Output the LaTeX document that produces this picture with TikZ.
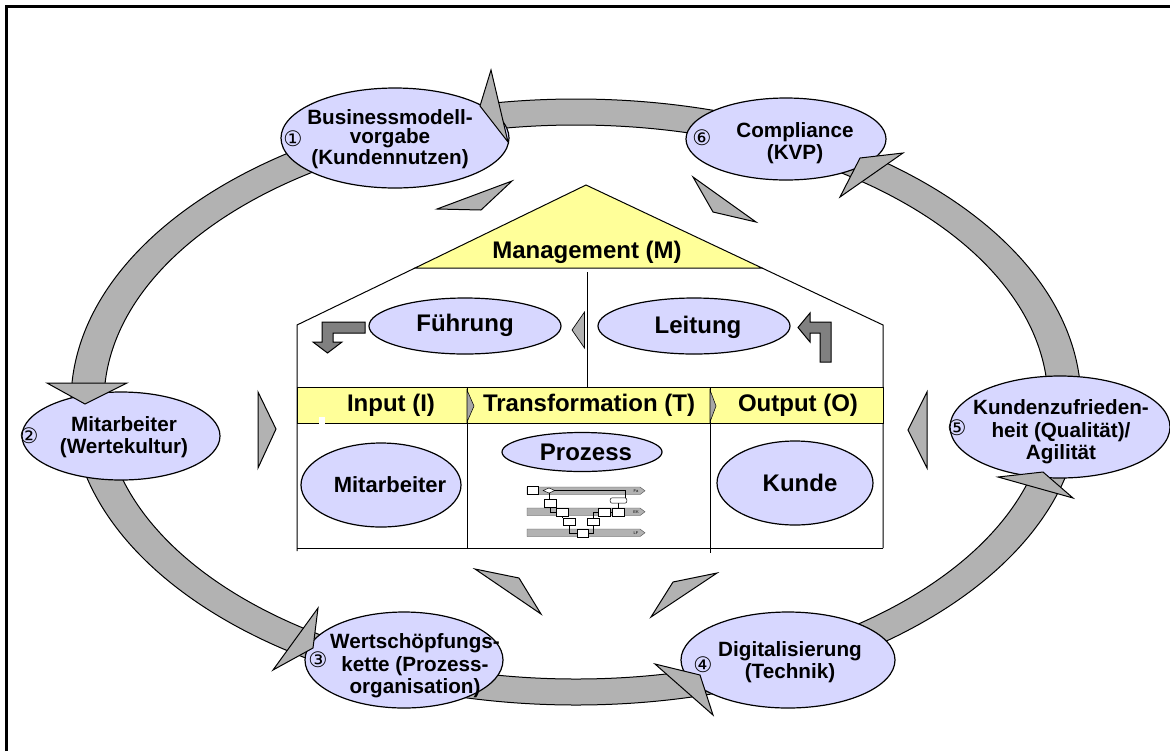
\documentclass[tikz,border=0pt]{standalone}
\usepackage{fontspec}
\setmainfont{Liberation Sans}
\newfontfamily\dejavu{DejaVu Sans}
\usetikzlibrary{shapes.geometric}
\definecolor{ringgray}{RGB}{178,178,178}
\definecolor{arrgray}{RGB}{128,128,128}
\definecolor{lav}{RGB}{215,215,255}
\definecolor{yel}{RGB}{255,255,153}
\begin{document}
\begin{tikzpicture}[x=0.75pt,y=-0.75pt,
  bub/.style={ellipse, draw=black, line width=0.9pt, fill=lav, inner sep=0pt, outer sep=0pt},
  olbl/.style={font=\fontsize{15.5}{17}\selectfont\bfseries, align=center, inner sep=0pt},
  ilbl/.style={font=\fontsize{18}{20}\selectfont\bfseries, inner sep=0pt},
  num/.style={font=\dejavu\fontsize{16}{16}\selectfont, inner sep=0pt},
  tri/.style={fill=ringgray, draw=black, line width=0.75pt, line join=miter},
  bent/.style={fill=arrgray, draw=black, line width=0.75pt},
  house/.style={draw=black, line width=0.75pt},
  lane/.style={fill=ringgray, draw=black!70, line width=0.3pt},
  mbox/.style={fill=white, draw=black, line width=0.35pt},
  mline/.style={draw=black, line width=0.6pt},
  tiny/.style={font=\fontsize{3}{3}\selectfont, inner sep=0pt}]
\useasboundingbox (0,0) rectangle (1170,751);
\fill[white] (0,0) rectangle (1170,751);
% frame
\draw[line width=2.25pt] (6,751) -- (6,6) -- (1170,6);

% ring
\filldraw[fill=ringgray, draw=black, line width=0.75pt, even odd rule]
  (576,402) ellipse [x radius=378.75pt, y radius=227.25pt]
  (576,402) ellipse [x radius=354pt, y radius=207.75pt];

% outer nodes
\node[bub, minimum width=171pt, minimum height=75pt] (n1) at (395,138) {};
\node[bub, minimum width=148.5pt, minimum height=66pt] (n2) at (121,436) {};
\node[bub, minimum width=148.5pt, minimum height=72pt] (n3) at (404,660) {};
\node[bub, minimum width=160.5pt, minimum height=72pt] (n4) at (788,660) {};
\node[bub, minimum width=165pt, minimum height=76.5pt] (n5) at (1060,427) {};
\node[bub, minimum width=150pt, minimum height=61.5pt] (n6) at (786,139) {};

\node[olbl, font=\fontsize{15.5}{14.5}\selectfont\bfseries] (t1) at (390,139) {Businessmodell-\\vorgabe\\(Kundennutzen)};
\node[olbl] (t2) at (124,437) {Mitarbeiter\\(Wertekultur)};
\node[olbl] (t3) at (415,666) {Wertschöpfungs-\\kette (Prozess-\\organisation)};
\node[olbl] (t4) at (790,662) {Digitalisierung\\(Technik)};
\node[olbl] (t5) at (1061,432) {Kundenzufrieden-\\heit (Qualität)/\\Agilität};
\node[olbl] (t6) at (795,143) {Compliance\\(KVP)};

\node[num] (c1) at (293,139) {①};
\node[num] (c2) at (29,436) {②};
\node[num] (c3) at (318,660) {③};
\node[num] (c4) at (703,665) {④};
\node[num] (c5) at (957,428) {⑤};
\node[num] (c6) at (702,138) {⑥};

% arrowheads of the ring
\draw[tri] (491,70) -- (508,142) -- (480,106) -- cycle;
\draw[tri] (47,383) -- (127,383) -- (85,404) -- cycle;
\draw[tri] (318,608) -- (313,648) -- (273,670) -- cycle;
\draw[tri] (655,664) -- (700,675) -- (713,715) -- cycle;
\draw[tri] (998,477) -- (1043,472) -- (1073,498) -- cycle;
\draw[tri] (903,153) -- (860,158) -- (840,197) -- cycle;

% inner pointers
\draw[tri] (437,209) -- (512,181) -- (481,210) -- cycle;
\draw[tri] (693,177) -- (756,222) -- (713,212) -- cycle;
\draw[tri] (258,392) -- (276,429) -- (258,468) -- cycle;
\draw[tri] (927,392) -- (908,430) -- (927,468) -- cycle;
\draw[tri] (475,569) -- (519,578) -- (541,614) -- cycle;
\draw[tri] (717,573) -- (673,582) -- (651,617) -- cycle;

% house
\filldraw[fill=yel, draw=black, line width=0.75pt] (415,268) -- (586,185) -- (762,268) -- cycle;
\draw[house] (297,551) -- (297,325) -- (415,268);
\draw[house] (762,268) -- (883,325) -- (883,548);
\draw[house] (587.5,272) -- (587.5,387);
\filldraw[fill=yel, draw=black, line width=0.75pt] (297,387) rectangle (883,423);
\draw[house] (467,387) -- (467,548);
\draw[house] (710,387) -- (710,553);
\draw[house] (297,548) -- (883,548);
\fill[white] (319,417) rectangle (325,425);
\draw[fill=arrgray!70, draw=black, line width=0.4pt] (467,390) -- (474,406) -- (467,422) -- cycle;
\draw[fill=arrgray!70, draw=black, line width=0.4pt] (710,390) -- (716,406) -- (710,422) -- cycle;

\node[ilbl] (mg) at (587,252) {Management (M)};
\node[ilbl] (in) at (391,405) {Input (I)};
\node[ilbl] (tr) at (589,405) {Transformation (T)};
\node[ilbl] (out) at (798,405) {Output (O)};

% Fuehrung / Leitung
\node[bub, minimum width=144pt, minimum height=42pt] (fu) at (465,326) {};
\node[bub, minimum width=144pt, minimum height=42pt] (le) at (694,326) {};
\node[ilbl] (fut) at (465,325) {Führung};
\node[ilbl] (let) at (698,327) {Leitung};
\draw[tri, line width=0.5pt] (584.5,312) -- (572,330) -- (584.5,348) -- cycle;
\draw[bent] (365,322) -- (322,322) -- (322,342) -- (313,342) -- (327.5,353) -- (342,342) -- (333,342) -- (333,333) -- (365,333) -- cycle;
\draw[bent] (831,362) -- (831,322) -- (810,322) -- (810,313) -- (798,327.5) -- (810,342) -- (810,333) -- (820,333) -- (820,362) -- cycle;

% inner bubbles
\node[bub, minimum width=120pt, minimum height=63pt] (mi) at (381,485) {};
\node[bub, minimum width=120pt, minimum height=29.25pt] (pz) at (582,452) {};
\node[bub, minimum width=117pt, minimum height=63pt] (ku) at (795,483) {};
\node[ilbl, font=\fontsize{16.5}{19}\selectfont\bfseries] (mit) at (390,485) {Mitarbeiter};
\node[ilbl] (pzt) at (586,452) {Prozess};
\node[ilbl] (kut) at (800,483) {Kunde};

% mini process diagram
\foreach \yy in {487,508,529}{
  \draw[lane] (527,\yy) -- (640,\yy) -- (645,\yy+3.75) -- (640,\yy+7.5) -- (527,\yy+7.5) -- cycle;
}
\node[tiny] (fa) at (636,491) {Fa};
\node[tiny] (ek) at (636,512) {EK};
\node[tiny] (lf) at (636,533) {LF};
\draw[mline] (555,490.5) -- (625,490.5) -- (625,498);
\draw[mline] (549,493) -- (549,499);
\draw[mline] (550,507) -- (550,512) -- (556,512);
\draw[mline] (562,516) -- (562,518);
\draw[mline] (569,525) -- (569,533) -- (577,533);
\draw[mline] (588,533) -- (593,533) -- (593,525);
\draw[mline] (593,518) -- (593,512) -- (598,512);
\draw[mline] (610,512) -- (612,512);
\draw[mline] (618,508) -- (618,503);
\node[mbox, minimum width=8pt, minimum height=5.5pt, inner sep=0pt] (ba) at (533,490.3) {};
\node[diamond, fill=white, draw=black, line width=0.35pt, minimum width=9pt, minimum height=4pt, inner sep=0pt] (bd) at (549,490.5) {};
\node[mbox, rounded corners=1.5pt, minimum width=12.5pt, minimum height=4pt, inner sep=0pt] (bo) at (618.5,500.5) {};
\node[mbox, minimum width=9pt, minimum height=6pt, inner sep=0pt] (bb) at (550,503) {};
\node[mbox, minimum width=9pt, minimum height=6pt, inner sep=0pt] (bc) at (562,512) {};
\node[mbox, minimum width=9pt, minimum height=6pt, inner sep=0pt] (bdd) at (604,512) {};
\node[mbox, minimum width=9pt, minimum height=6pt, inner sep=0pt] (be) at (618,512) {};
\node[mbox, minimum width=9pt, minimum height=5.5pt, inner sep=0pt] (bf) at (569.5,521.5) {};
\node[mbox, minimum width=9pt, minimum height=5.5pt, inner sep=0pt] (bg) at (593.5,521.5) {};
\node[mbox, minimum width=8.5pt, minimum height=6pt, inner sep=0pt] (bh) at (582.5,533) {};
\end{tikzpicture}
\end{document}
